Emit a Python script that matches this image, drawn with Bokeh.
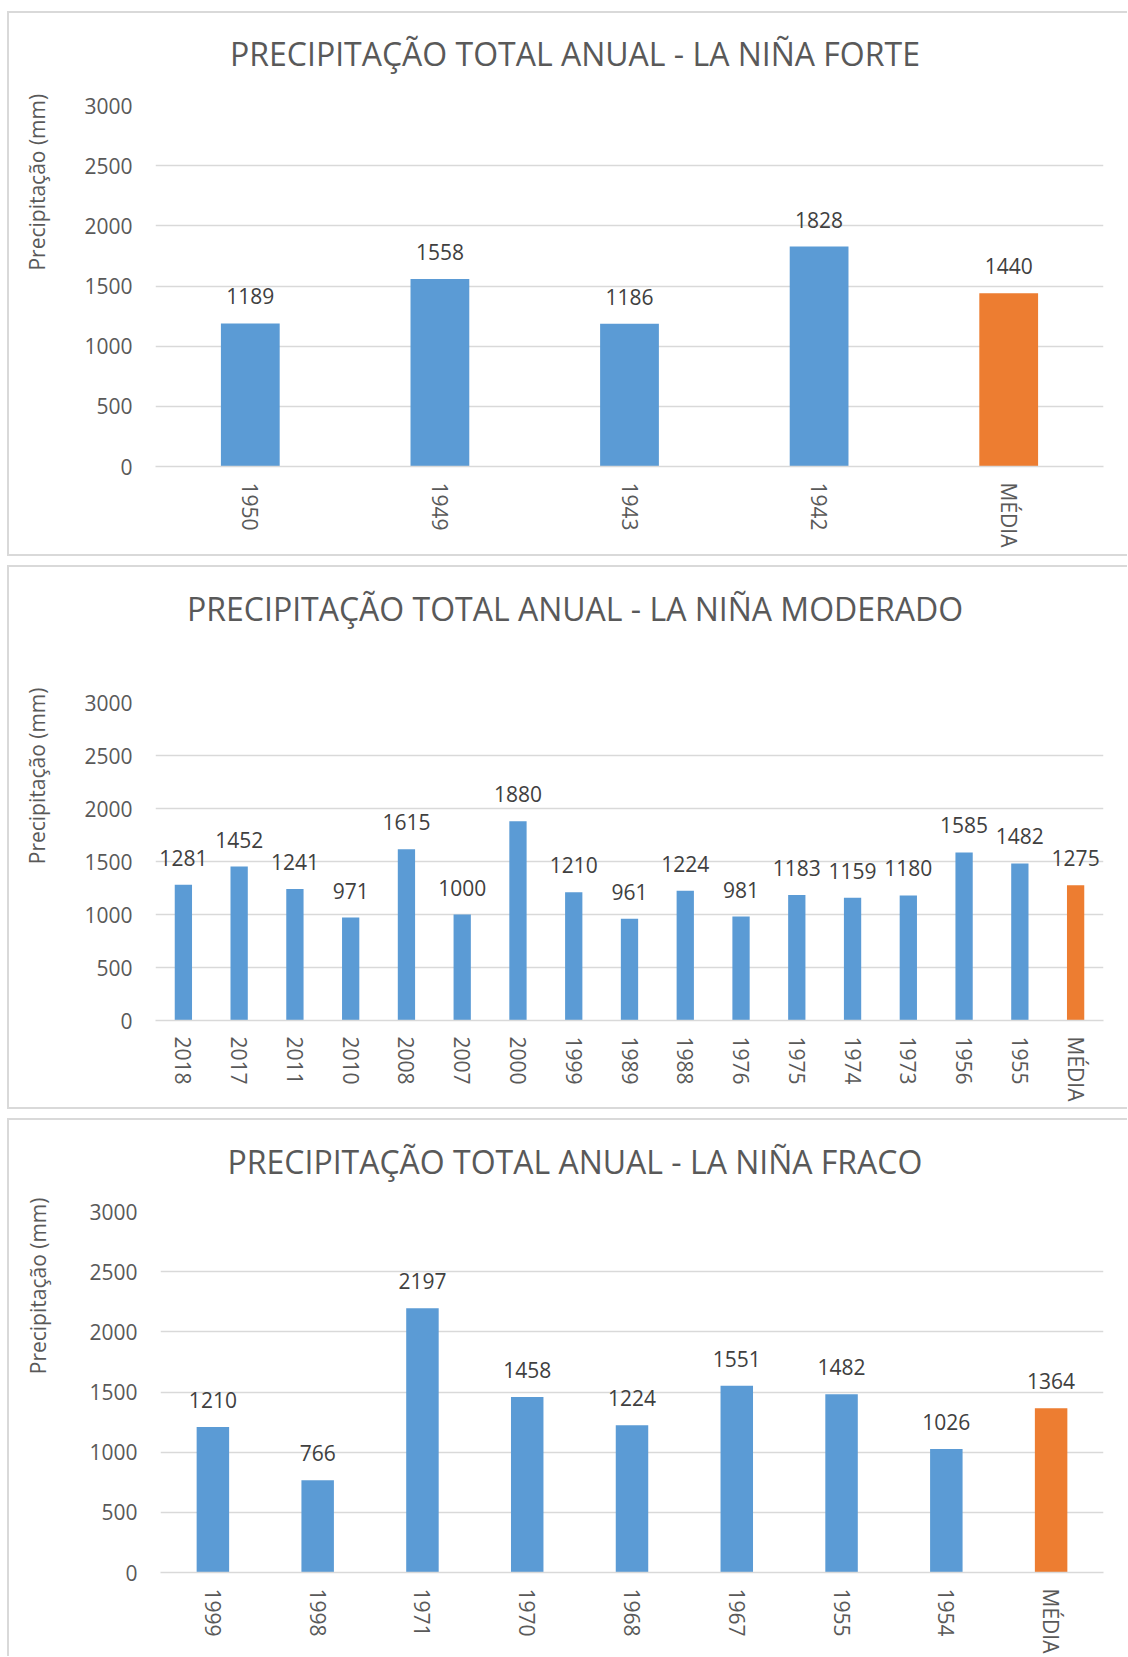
import math
from bokeh.plotting import figure
from bokeh.models import FactorRange, Range1d, Title, ColumnDataSource
from bokeh.layouts import column
from bokeh.embed import file_html
from bokeh.resources import INLINE
from bokeh.core.properties import value

# ---------------- data ----------------
TITLE_FORTE = "PRECIPITAÇÃO TOTAL ANUAL - LA NIÑA FORTE"
TITLE_MODERADO = "PRECIPITAÇÃO TOTAL ANUAL - LA NIÑA MODERADO"
TITLE_FRACO = "PRECIPITAÇÃO TOTAL ANUAL - LA NIÑA FRACO"
Y_LABEL = "Precipitação (mm)"
Y_TICKS = [0, 500, 1000, 1500, 2000, 2500, 3000]

forte_years = ["1950", "1949", "1943", "1942", "MÉDIA"]
forte_values = [1189, 1558, 1186, 1828, 1440]

moderado_years = ["2018", "2017", "2011", "2010", "2008", "2007", "2000", "1999",
                  "1989", "1988", "1976", "1975", "1974", "1973", "1956", "1955", "MÉDIA"]
moderado_values = [1281, 1452, 1241, 971, 1615, 1000, 1880, 1210,
                   961, 1224, 981, 1183, 1159, 1180, 1585, 1482, 1275]

fraco_years = ["1999", "1998", "1971", "1970", "1968", "1967", "1955", "1954", "MÉDIA"]
fraco_values = [1210, 766, 2197, 1458, 1224, 1551, 1482, 1026, 1364]

# ---------------- style ----------------
BLUE = "#5B9BD5"
ORANGE = "#ED7D31"
GRID = "#d9d9d9"
TXT = "#595959"
LBL = "#404040"
FONT = "Open Sans"
W = 1127
MB_RIGHT = 24


def spacer(size):
    # blank title used only to reserve room in a side panel
    return Title(text=" ", text_font_size="1px", standoff=size, text_color=TXT)


def panel(title, cats, vals, height, mb_left, mb_top, mb_bottom,
          title_offset, title_gap, ylab_gap, ylab_offset, bottom_border=True):
    p = figure(width=W, height=height,
               x_range=FactorRange(factors=cats), y_range=Range1d(0, 3000),
               output_backend="svg", toolbar_location=None, tools="",
               min_border_left=mb_left, min_border_right=MB_RIGHT,
               min_border_top=mb_top, min_border_bottom=mb_bottom)
    if "frame_align" in p.properties():
        p.frame_align = False
    p.border_fill_color = None
    p.background_fill_color = None
    p.outline_line_color = None
    # panel frame: white strip of 7px on the left, then a 2px grey border
    shadows = ["inset 7px 0 0 white", "inset 9px 0 0 " + GRID,
               "inset 0 2px 0 " + GRID]
    if bottom_border:
        shadows.append("inset 0 -2px 0 " + GRID)
    p.styles = {"box-shadow": ", ".join(shadows), "background-color": "white"}

    colors = [ORANGE if c == "MÉDIA" else BLUE for c in cats]
    src = ColumnDataSource(dict(cat=cats, val=vals, color=colors,
                                label=[str(v) for v in vals]))
    p.vbar(x="cat", top="val", width=0.31, source=src,
           fill_color="color", line_color=None)
    p.text(x="cat", y="val", text="label", source=src,
           y_offset=-27, text_align="center", text_baseline="alphabetic",
           text_font=value(FONT), text_font_size="21px", text_color=LBL)

    p.xgrid.grid_line_color = None
    p.ygrid.grid_line_color = GRID
    p.ygrid.grid_line_width = 1.5

    p.yaxis.ticker = Y_TICKS
    p.yaxis.axis_line_color = None
    p.yaxis.major_tick_out = 0
    p.yaxis.major_tick_in = 0
    p.yaxis.minor_tick_out = 0
    p.yaxis.minor_tick_in = 0
    p.yaxis.major_label_standoff = 23
    p.yaxis.major_label_text_font = FONT
    p.yaxis.major_label_text_font_size = "21px"
    p.yaxis.major_label_text_color = TXT

    p.xaxis.axis_line_color = GRID
    p.xaxis.axis_line_width = 1.5
    p.xaxis.major_tick_out = 0
    p.xaxis.major_tick_in = 0
    p.xaxis.major_label_orientation = -math.pi / 2
    p.xaxis.major_label_standoff = 16
    p.xaxis.major_label_text_font = FONT
    p.xaxis.major_label_text_font_size = "21px"
    p.xaxis.major_label_text_color = TXT

    # chart title (above), pushed away from the frame by a spacer
    p.add_layout(spacer(title_gap), "above")
    p.add_layout(Title(text=title, align="left", offset=title_offset, standoff=0,
                       text_font=FONT, text_font_size="32px",
                       text_font_style="normal", text_color=TXT), "above")
    # value axis title (left), pushed away from the tick labels by a spacer
    p.add_layout(spacer(ylab_gap), "left")
    p.add_layout(Title(text=Y_LABEL, align="right", offset=ylab_offset, standoff=0,
                       text_font=FONT, text_font_size="21px",
                       text_font_style="normal", text_color=TXT), "left")
    return p


p1 = panel(TITLE_FORTE, forte_years, forte_values, 545, 155, 94, 90,
           74.5, 28.3, 27.9, -11.7)
p2 = panel(TITLE_MODERADO, moderado_years, moderado_values, 544, 155, 137, 89,
           31.5, 69.7, 27.9, -15)
p3 = panel(TITLE_FRACO, fraco_years, fraco_values, 538, 160, 93, 81,
           67, 26.3, 32.2, -14, bottom_border=False)
p1.margin = (11, 0, 0, 0)
p2.margin = (0, 0, 0, 0)
p3.margin = (0, 0, 0, 0)

layout = column(p1, p2, p3, spacing=9)

open("out.html", "w").write(file_html(layout, INLINE))
